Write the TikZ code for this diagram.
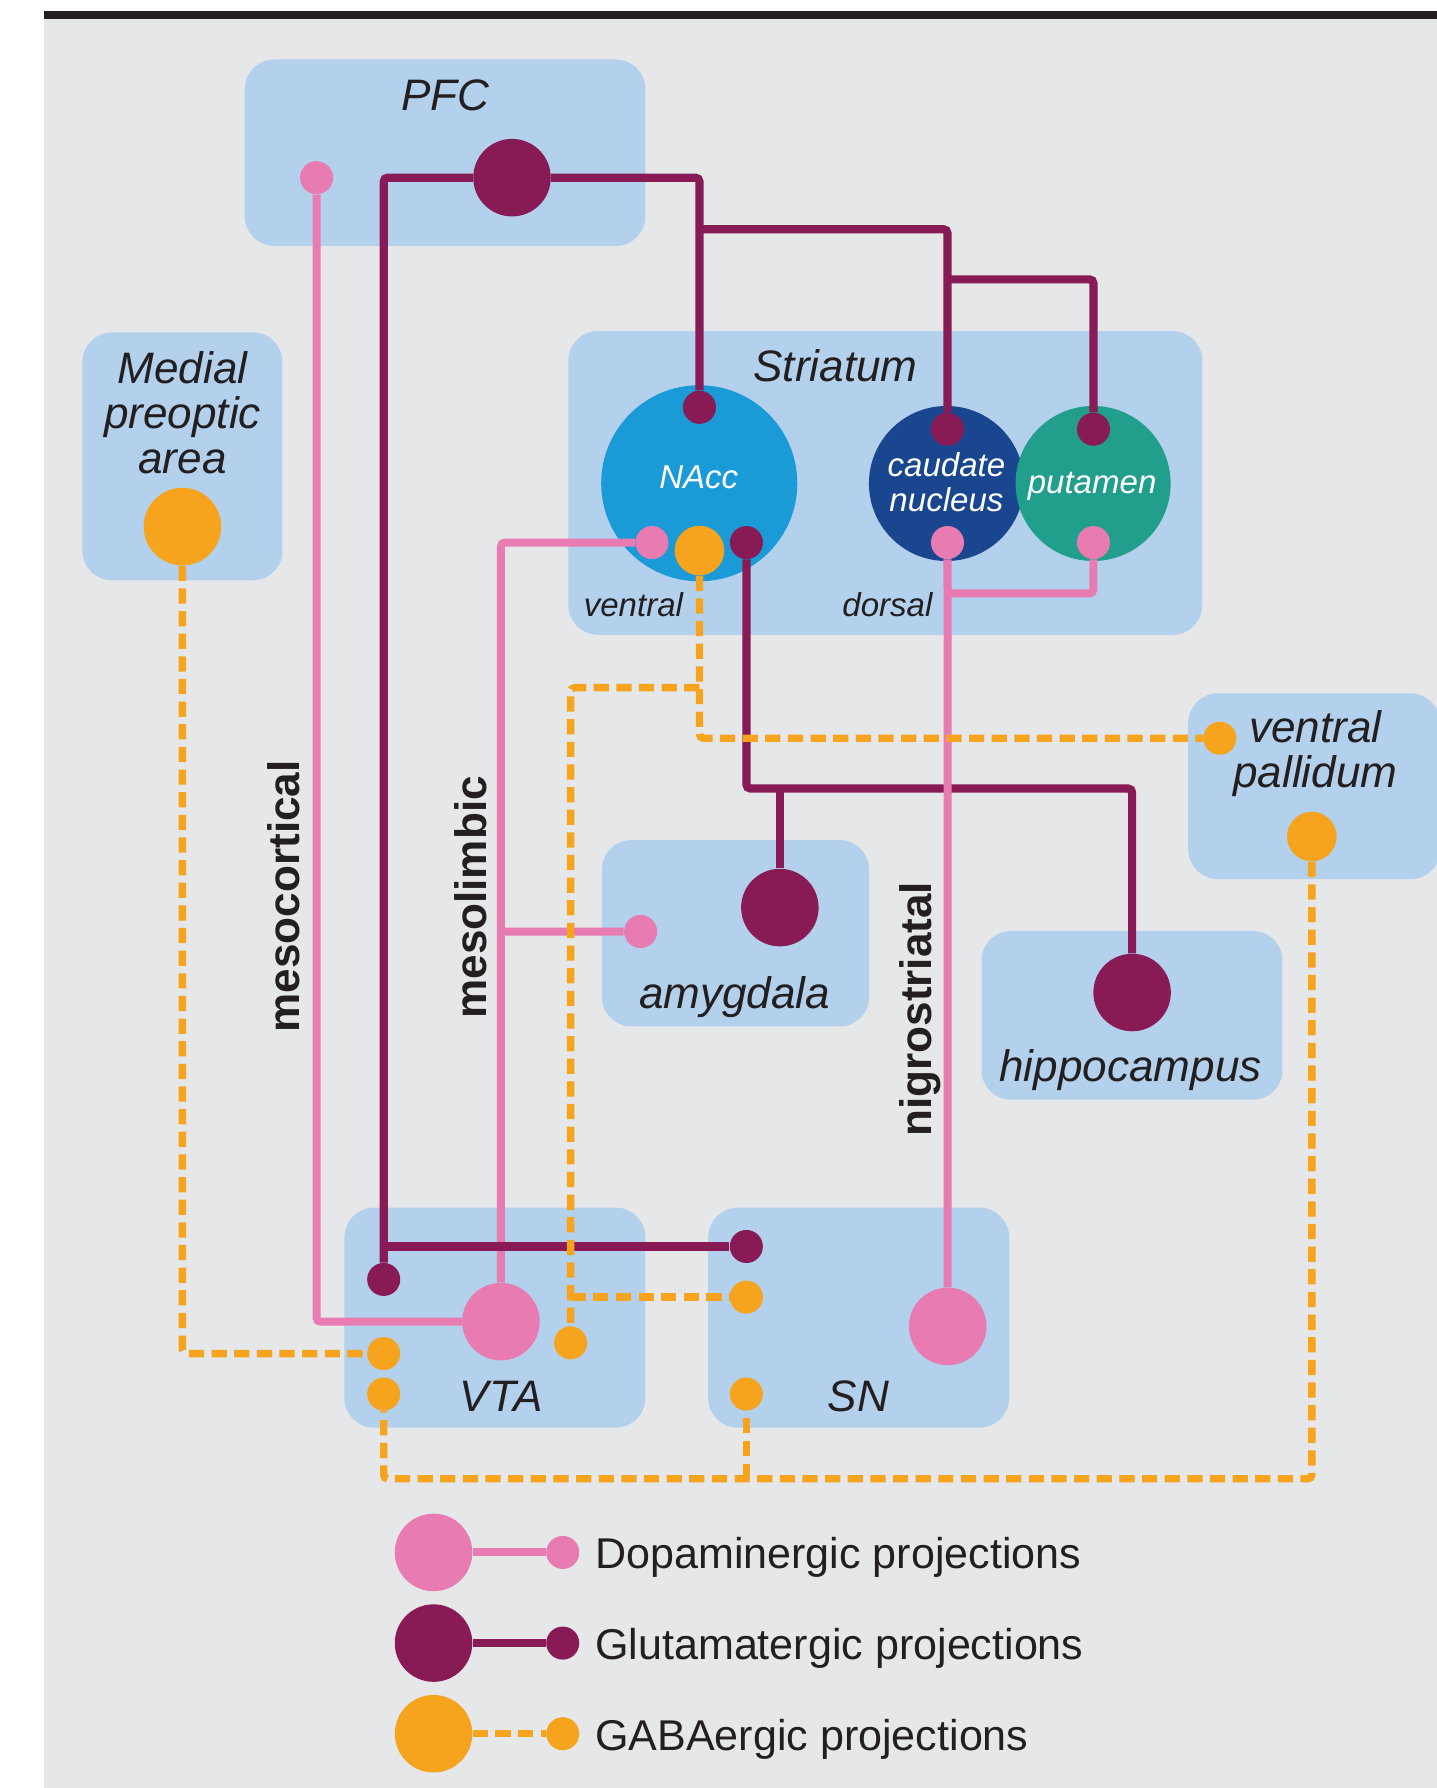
\documentclass[tikz,border=0pt]{standalone}
\usepackage{fontspec}
\setmainfont{Liberation Sans}
\definecolor{bgcol}{HTML}{E6E7E9}
\definecolor{regioncol}{HTML}{B3D1EC}
\definecolor{dacol}{HTML}{E87BB1}
\definecolor{glucol}{HTML}{881B55}
\definecolor{gabacol}{HTML}{F6A31E}
\definecolor{nacccol}{HTML}{1A9AD7}
\definecolor{caudcol}{HTML}{19468F}
\definecolor{putcol}{HTML}{219E8C}
\definecolor{ink}{HTML}{231F20}

\begin{document}
\begin{tikzpicture}[x=0.02cm, y=-0.02cm,
  region/.style={fill=regioncol, rounded corners=0.52cm, inner sep=0pt},
  da/.style={fill=dacol}, glu/.style={fill=glucol}, gaba/.style={fill=gabacol},
  syn/.style={circle, inner sep=0pt, minimum size=0.58cm},
  midsyn/.style={circle, inner sep=0pt, minimum size=0.87cm},
  bigsyn/.style={circle, inner sep=0pt, minimum size=1.36cm},
  daline/.style={dacol, line width=4pt, rounded corners=2pt},
  gluline/.style={glucol, line width=4.1pt, rounded corners=2pt},
  gabaline/.style={gabacol, line width=3.7pt, dash pattern=on 7.6pt off 3.7pt, rounded corners=2pt},
  lbl/.style={text=ink, anchor=base, inner sep=0pt, align=center, font=\itshape\fontsize{22}{22.5}\selectfont},
  sublbl/.style={anchor=base, inner sep=0pt, align=center, font=\itshape\fontsize{16.5}{17.4}\selectfont},
  tract/.style={text=ink, anchor=base, inner sep=0pt, rotate=90, font=\bfseries\fontsize{22}{22}\selectfont},
  keytext/.style={text=ink, anchor=base west, inner sep=0pt, font=\fontsize{21.5}{21.5}\selectfont}]
  \useasboundingbox (0,0) rectangle (1260,1568);
  \fill[white] (0,0) rectangle (1260,1568);
  \fill[bgcol] (38.5,17) rectangle (1260,1568);
  \fill[ink] (38.5,10) rectangle (1260,17);

  % regions
  \node[region, minimum width=7.03cm, minimum height=3.27cm] (pfc) at (390.3,133.9) {};
  \node[region, minimum width=3.51cm, minimum height=4.35cm] (mpoa) at (160,400.2) {};
  \node[region, minimum width=11.12cm, minimum height=5.33cm] (str) at (776.4,423.5) {};
  \node[region, minimum width=4.42cm, minimum height=3.26cm] (vp) at (1152.5,689.5) {};
  \node[region, minimum width=4.69cm, minimum height=3.27cm] (amy) at (645,818.4) {};
  \node[region, minimum width=5.28cm, minimum height=2.96cm] (hip) at (992.7,890.4) {};
  \node[region, minimum width=5.28cm, minimum height=3.86cm] (vta) at (434,1155.5) {};
  \node[region, minimum width=5.28cm, minimum height=3.86cm] (sn) at (753,1155.5) {};
  \node[circle, fill=nacccol, inner sep=0pt, minimum size=3.44cm] (nacc) at (613.2,423.8) {};
  \node[circle, fill=caudcol, inner sep=0pt, minimum size=2.72cm] (caud) at (830,424) {};
  \node[circle, fill=putcol, inner sep=0pt, minimum size=2.72cm] (put) at (958.6,424) {};

  % synapses
  \node[bigsyn, glu] (pfcglu) at (449,155.8) {};
  \node[syn, da] (pfcda) at (277.6,155.8) {};
  \node[bigsyn, gaba] (mpoagaba) at (160,461.8) {};
  \node[syn, glu] (naccglu) at (613.4,357.2) {};
  \node[syn, da] (naccda) at (571.7,475.8) {};
  \node[midsyn, gaba] (naccgaba) at (613.4,482.8) {};
  \node[syn, glu] (naccout) at (654.6,475.8) {};
  \node[syn, glu] (caudglu) at (830.9,376.4) {};
  \node[syn, da] (cauda) at (830.9,475.8) {};
  \node[syn, glu] (putglu) at (958.9,376.4) {};
  \node[syn, da] (putda) at (958.9,475.8) {};
  \node[syn, gaba] (vpin) at (1069.7,647.4) {};
  \node[midsyn, gaba] (vpgaba) at (1150.4,733.6) {};
  \node[syn, da] (amyda) at (561.8,816.9) {};
  \node[bigsyn, glu] (amyglu) at (683.9,795.9) {};
  \node[bigsyn, glu] (hipglu) at (992.8,870.4) {};
  \node[syn, glu] (vtaglu) at (336.5,1122) {};
  \node[bigsyn, da] (vtada) at (439.3,1159) {};
  \node[syn, gaba] (vtagaba1) at (336.5,1187) {};
  \node[syn, gaba] (vtagaba2) at (336.5,1222.5) {};
  \node[syn, gaba] (vtagaba3) at (500.4,1177.6) {};
  \node[syn, glu] (snglu) at (654.5,1093.1) {};
  \node[syn, gaba] (sngaba1) at (654.5,1137.5) {};
  \node[syn, gaba] (sngaba2) at (654.5,1222.5) {};
  \node[bigsyn, da] (snda) at (831.1,1163.2) {};

  \coordinate (s1) at (613.4,201);
  \coordinate (s2) at (830.9,245);
  \coordinate (v1) at (336.5,1093.1);
  \coordinate (h1) at (992.8,691.5);
  \coordinate (a1) at (683.9,691.5);
  \coordinate (m1) at (439.3,817);
  \coordinate (d1) at (830.9,520.3);
  \coordinate (g1) at (613.4,603);
  \coordinate (g2) at (500.4,1137.5);
  \coordinate (g3) at (336.5,1296.8);
  \coordinate (g4) at (654.5,1296.8);

  % glutamatergic
  \draw[gluline] (pfcglu) -| (naccglu);
  \draw[gluline] (pfcglu) -| (vtaglu);
  \draw[gluline] (s1) -| (caudglu);
  \draw[gluline] (s2) -| (putglu);
  \draw[gluline] (naccout) |- (h1) -- (hipglu);
  \draw[gluline] (a1) -- (amyglu);
  % dopaminergic
  \draw[daline] (pfcda) |- (vtada);
  \draw[daline] (vtada) |- (naccda);
  \draw[daline] (m1) -- (amyda);
  \draw[daline] (snda) -- (cauda);
  \draw[daline] (d1) -| (putda);
  \draw[gluline] (v1) -- (snglu);
  % GABAergic
  \draw[gabaline] (mpoagaba) |- (vtagaba1);
  \draw[gabaline] (naccgaba) |- (vpin);
  \draw[gabaline] (g1) -| (vtagaba3);
  \draw[gabaline] (g2) -- (sngaba1);
  \draw[gabaline] (vpgaba) |- (g3) -- (vtagaba2);
  \draw[gabaline] (g4) -- (sngaba2);

  % labels
  \node[lbl] (pfclbl) at (390.4,96.5) {PFC};
  \node[lbl] (mpoalbl) at (160,415) {Medial\\preoptic\\area};
  \node[lbl] (strlbl) at (732.8,334.6) {Striatum};
  \node[sublbl, text=white] (nacclbl) at (612.8,428.2) {NAcc};
  \node[sublbl, text=white] (caudlbl) at (830,448.6) {caudate\\nucleus};
  \node[sublbl, text=white] (putlbl) at (957.7,432.6) {putamen};
  \node[sublbl, text=ink] (ventlbl) at (555.5,540.7) {ventral};
  \node[sublbl, text=ink] (dorslbl) at (778.2,540.7) {dorsal};
  \node[lbl] (vplbl) at (1153.5,691) {ventral\\pallidum};
  \node[lbl] (amylbl) at (644.2,884.1) {amygdala};
  \node[lbl] (hiplbl) at (991.4,948.4) {hippocampus};
  \node[lbl] (vtalbl) at (439.5,1237.8) {VTA};
  \node[lbl] (snlbl) at (752.8,1237.8) {SN};
  \node[tract] (mesoc) at (263,786) {mesocortical};
  \node[tract] (mesol) at (427,787) {mesolimbic};
  \node[tract] (nigro) at (817,885) {nigrostriatal};

  % legend
  \foreach \k/\ln/\yy/\txt in {da/daline/1361.4/Dopaminergic, glu/gluline/1440.9/Glutamatergic, gaba/gabaline/1520.4/GABAergic}{
    \node[bigsyn, \k] (leg\k) at (380.2,\yy) {};
    \node[syn, \k] (key\k) at (493.5,\yy) {};
    \draw[\ln] (leg\k) -- (key\k);
    \node[keytext] (txt\k) at (521.6,\yy+14.5) {\txt\ projections};
  }
\end{tikzpicture}
\end{document}
